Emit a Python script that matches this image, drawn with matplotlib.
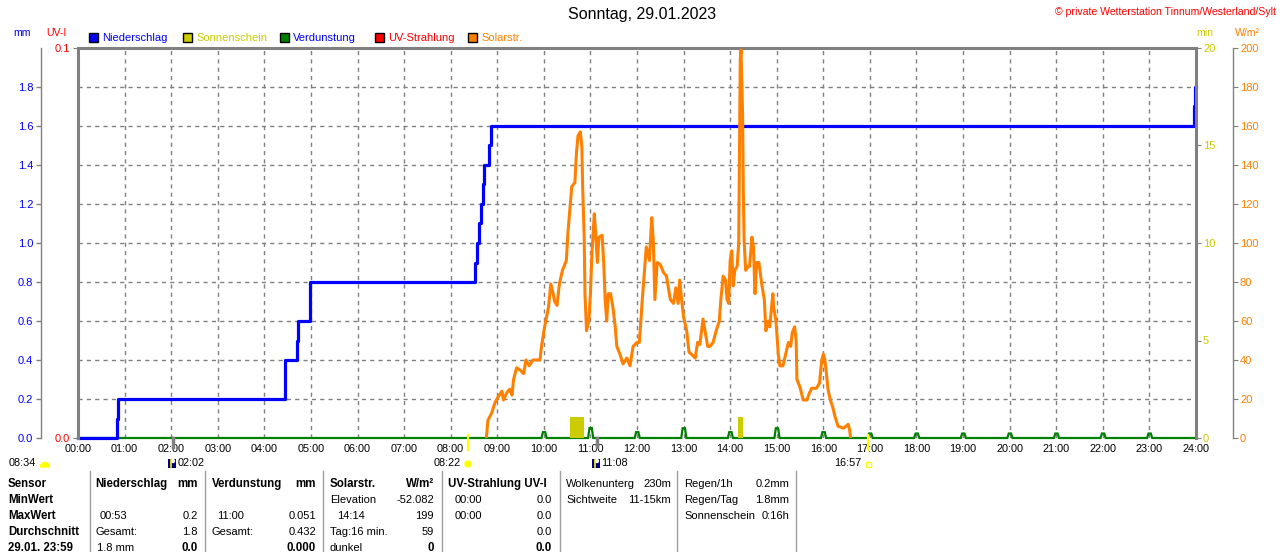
import numpy as np
import matplotlib
matplotlib.use("Agg")
import matplotlib.pyplot as plt
from matplotlib.lines import Line2D
from matplotlib.patches import Rectangle, Wedge, Circle

plt.rcParams['font.family'] = ['Liberation Sans', 'DejaVu Sans']

# ---------------- data ----------------
hour_labels = ["%02d:00" % h for h in range(25)]

# cumulative precipitation (mm), value valid from given time on
rain_times = ["00:00", "00:50", "00:52", "04:27", "04:42", "04:44", "04:59",
              "08:31", "08:34", "08:36", "08:39", "08:42", "08:43", "08:49",
              "08:52", "23:58", "23:59", "24:00"]
rain_vals = [0.0, 0.1, 0.2, 0.4, 0.5, 0.6, 0.8,
             0.9, 1.0, 1.1, 1.2, 1.3, 1.4, 1.5,
             1.6, 1.7, 1.8, 1.8]

# solar radiation (W/m²)
sol_times = ["08:46", "08:48", "08:53", "08:57", "09:01", "09:06", "09:08", "09:12", "09:16", "09:19",
             "09:21", "09:25", "09:29", "09:34", "09:37", "09:41", "09:46", "09:55", "09:57", "10:01",
             "10:06", "10:09", "10:12", "10:14", "10:17", "10:20", "10:24", "10:29", "10:31", "10:34",
             "10:36", "10:40", "10:42", "10:44", "10:47", "10:49", "10:50", "10:52", "10:53", "10:55",
             "10:58", "11:00", "11:02", "11:05", "11:07", "11:09", "11:11", "11:15", "11:17", "11:19",
             "11:21", "11:23", "11:26", "11:29", "11:32", "11:34", "11:38", "11:42", "11:47", "11:51",
             "11:55", "12:00", "12:03", "12:05", "12:07", "12:10", "12:12", "12:16", "12:19", "12:21",
             "12:23", "12:26", "12:30", "12:34", "12:38", "12:40", "12:43", "12:47", "12:50", "12:53",
             "12:55", "12:58", "13:00", "13:04", "13:07", "13:10", "13:15", "13:18", "13:21", "13:25",
             "13:28", "13:31", "13:34", "13:38", "13:42", "13:46", "13:48", "13:51", "13:54", "13:56",
             "13:58", "14:00", "14:02", "14:04", "14:06", "14:09", "14:11", "14:13", "14:14", "14:16",
             "14:17", "14:18", "14:20", "14:23", "14:25", "14:28", "14:30", "14:32", "14:34", "14:37",
             "14:41", "14:44", "14:46", "14:49", "14:51", "14:55", "14:56", "14:59", "15:02", "15:04",
             "15:08", "15:12", "15:15", "15:18", "15:20", "15:23", "15:25", "15:26", "15:30", "15:34",
             "15:39", "15:42", "15:45", "15:51", "15:55", "15:58", "16:00", "16:02", "16:04", "16:06",
             "16:09", "16:12", "16:15", "16:19", "16:26", "16:29", "16:32", "16:34", "16:35"]
sol_vals = [0, 9, 13, 18, 21, 24, 19.5, 23, 25, 22,
            30, 36, 35, 33, 40, 37, 40, 40, 47, 57,
            67, 79, 74, 70, 68, 79, 86, 91, 105, 119,
            129, 131, 146, 155, 157, 149, 129, 103, 74, 55,
            60, 74, 95, 115, 103, 90, 103, 104, 91, 71,
            60, 74, 74, 67, 57, 47, 43, 38, 41, 37,
            47, 49, 49, 60, 72, 88, 98, 91, 113, 101,
            71, 90, 89, 85, 83, 78, 71, 69, 77, 69,
            81, 69, 62, 55, 44, 43, 41, 49, 48, 61,
            54, 47, 47, 49, 55, 60, 71, 83, 81, 71,
            69, 91, 96, 78, 86, 88, 100, 194, 199, 166,
            124, 101, 86, 88, 88, 103, 98, 74, 90, 90,
            78, 71, 55, 60, 57, 74, 67, 60, 43, 37,
            37, 44, 49, 47, 54, 57, 50, 30, 26, 19.5,
            19.5, 23, 25.5, 25.5, 28, 40, 43, 40, 33, 25,
            19.5, 16, 11, 6, 5, 6, 7, 4, 0]

# sunshine (min per interval)
sun_start = ["10:34", "14:10"]
sun_end = ["10:52", "14:16"]
sun_vals = [1.1, 1.1]

# evaporation (mm) per hour
evap_hours = [10, 11, 12, 13, 14, 15, 16, 17, 18, 19, 20, 21, 22, 23]
evap_vals = [0.03, 0.051, 0.03, 0.05, 0.03, 0.05, 0.03, 0.023, 0.023, 0.023, 0.023, 0.023, 0.023, 0.023]

mm_ticks = [0.0, 0.2, 0.4, 0.6, 0.8, 1.0, 1.2, 1.4, 1.6, 1.8]
min_ticks = [0, 5, 10, 15, 20]
wm2_ticks = list(range(0, 201, 20))
uv_ticks = [0.0, 0.1]

sunrise, sunset = "08:22", "16:57"
moon_events = ["02:02", "11:08"]


def th(s):
    h, m = s.split(":")
    return int(h) + int(m) / 60.0


W, H = 1280, 552
fig = plt.figure(figsize=(W / 100, H / 100), dpi=100)
fig.patch.set_facecolor("white")


def fx(x):
    return x / W


def fy(y):
    return 1 - y / H


L, R, T, B = 78, 1196, 48, 438
rect = [fx(L), fy(B), (R - L) / W, (B - T) / H]
GRAY = "#808080"
BLUE = "#0000FF"
YEL = "#CCCC00"
ORANGE = "#FF8000"
GREEN = "#008000"
RED = "#FF0000"

# ---- main (mm) axis
ax = fig.add_axes(rect)
ax.set_xlim(0, 24)
ax.set_ylim(0, 2)
ax.set_xticks(range(25))
ax.set_xticklabels(hour_labels)
ax.tick_params(axis="x", length=0, pad=4, labelsize=7.8, colors="black")
ax.set_yticks(mm_ticks)
ax.set_yticklabels(["%.1f" % v for v in mm_ticks])
ax.tick_params(axis="y", direction="out", length=3.5, width=1, color=GRAY,
               labelcolor=BLUE, labelsize=8, pad=2)
ax.spines["left"].set_position(("outward", 37 * 0.72))
ax.spines["left"].set_color(GRAY)
ax.spines["left"].set_linewidth(1)
ax.spines["top"].set_color(GRAY)
ax.spines["top"].set_linewidth(2.2)
ax.spines["right"].set_visible(False)
ax.spines["bottom"].set_visible(False)
ax.grid(True, color=GRAY, linestyle=(0, (3, 3)), linewidth=1)
ax.set_axisbelow(True)

# evaporation line (green) along baseline
ex, ey = [0.0], [0.0]
for h, v in zip(evap_hours, evap_vals):
    ex += [h - 0.05, h - 0.02, h + 0.03, h + 0.06]
    ey += [0.0, v, v, 0.0]
ex.append(24.0)
ey.append(0.0)
ax.plot(ex, ey, color=GREEN, lw=1.6, solid_joinstyle="miter", clip_on=False, zorder=3)

# precipitation (blue)
ax.plot([th(t) for t in rain_times], rain_vals, drawstyle="steps-post",
        color=BLUE, lw=2.3, clip_on=False, zorder=4)

# ---- UV-I axis (left frame)
ax_uv = fig.add_axes(rect, facecolor="none")
ax_uv.set_xlim(0, 24)
ax_uv.set_ylim(0, 0.1)
ax_uv.set_xticks([])
ax_uv.set_yticks(uv_ticks)
ax_uv.set_yticklabels(["%.1f" % v for v in uv_ticks])
ax_uv.tick_params(axis="y", direction="out", length=3.5, color=GRAY,
                  labelcolor=RED, labelsize=8, pad=2)
for s in ["top", "right", "bottom"]:
    ax_uv.spines[s].set_visible(False)
ax_uv.spines["left"].set_color(GRAY)
ax_uv.spines["left"].set_linewidth(2.2)

# ---- sunshine axis (min) on right frame
ax_sun = fig.add_axes(rect, facecolor="none")
ax_sun.set_xlim(0, 24)
ax_sun.set_ylim(0, 20)
ax_sun.set_xticks([])
ax_sun.yaxis.tick_right()
ax_sun.set_yticks(min_ticks)
ax_sun.set_yticklabels([str(v) for v in min_ticks])
ax_sun.tick_params(axis="y", direction="out", length=3.5, color=GRAY,
                   labelcolor=YEL, labelsize=8, pad=1.5)
for s in ["top", "left", "bottom"]:
    ax_sun.spines[s].set_visible(False)
ax_sun.spines["right"].set_color(GRAY)
ax_sun.spines["right"].set_linewidth(2.2)
for s0, s1, v in zip(sun_start, sun_end, sun_vals):
    ax_sun.bar(th(s0), v, width=th(s1) - th(s0), align="edge", color=YEL, lw=0, zorder=2)
# sunrise / sunset ticks
for t in [sunrise, sunset]:
    ax_sun.plot([th(t), th(t)], [0.15, -0.6], color="#FFFF00", lw=1.6, clip_on=False)
# moon ticks
for t in moon_events:
    ax_sun.plot([th(t), th(t)], [0.0, -0.45], color=GRAY, lw=2.5, clip_on=False)

# ---- solar radiation axis (W/m²)
ax_sol = fig.add_axes(rect, facecolor="none")
ax_sol.set_xlim(0, 24)
ax_sol.set_ylim(0, 200)
ax_sol.set_xticks([])
ax_sol.yaxis.tick_right()
ax_sol.set_yticks(wm2_ticks)
ax_sol.set_yticklabels([str(v) for v in wm2_ticks])
ax_sol.tick_params(axis="y", direction="out", length=3.5, color=GRAY,
                   labelcolor=ORANGE, labelsize=8, pad=1.5)
for s in ["top", "left", "bottom"]:
    ax_sol.spines[s].set_visible(False)
ax_sol.spines["right"].set_position(("outward", 37 * 0.72))
ax_sol.spines["right"].set_color(GRAY)
ax_sol.spines["right"].set_linewidth(1)
ax_sol.plot([th(t) for t in sol_times], sol_vals, color=ORANGE, lw=2.2, zorder=5)

# ---- pixel overlay for decorative icons
ov = fig.add_axes([0, 0, 1, 1], facecolor="none")
ov.set_xlim(0, W)
ov.set_ylim(H, 0)
ov.axis("off")

# ---------------- texts ----------------
fig.text(fx(642), fy(15), "Sonntag, 29.01.2023", ha="center", va="center", fontsize=11.5)
fig.text(fx(1276), fy(12), "\u00a9 private Wetterstation Tinnum/Westerland/Sylt",
         ha="right", va="center", fontsize=7.6, color=RED)

fig.text(fx(22), fy(33), "mm", ha="center", va="center", fontsize=7.6, color=BLUE)
fig.text(fx(56), fy(33), "UV-I", ha="center", va="center", fontsize=7.6, color=RED)
fig.text(fx(1205), fy(33), "min", ha="center", va="center", fontsize=7.6, color=YEL)
fig.text(fx(1247), fy(33), "W/m\u00b2", ha="center", va="center", fontsize=7.6, color=ORANGE)

legend_items = [(89, BLUE, "Niederschlag", BLUE), (183, YEL, "Sonnenschein", YEL),
                (280, GREEN, "Verdunstung", BLUE), (375, RED, "UV-Strahlung", RED),
                (468, ORANGE, "Solarstr.", ORANGE)]
for x0, fc, lab, tc in legend_items:
    ov.add_patch(Rectangle((x0, 33), 9, 9, facecolor=fc, edgecolor="black", lw=1))
    fig.text(fx(x0 + 13), fy(38), lab, ha="left", va="center", fontsize=8, color=tc)

# sun / moon event labels under the axis
ROW = 463
fig.text(fx(9), fy(ROW), "08:34", ha="left", va="center", fontsize=7.8)
ov.add_patch(Wedge((45, 467), 4.5, 180, 360, color="#FFFF00"))
for mx in [168, 592]:
    ov.add_patch(Rectangle((mx, 459), 8, 9, facecolor="#000080", edgecolor="none"))
    ov.plot([mx + 3, mx + 3], [460, 467], color="#FFFF00", lw=1.2)
    ov.add_patch(Circle((mx + 5, 461), 1.5, color="white"))
fig.text(fx(178), fy(ROW), "02:02", ha="left", va="center", fontsize=7.8)
fig.text(fx(434), fy(ROW), "08:22", ha="left", va="center", fontsize=7.8)
ov.add_patch(Circle((468, 464), 3, color="#FFFF00"))
fig.text(fx(601), fy(ROW), "11:08", ha="left", va="center", fontsize=7.8)
fig.text(fx(834), fy(ROW), "16:57", ha="left", va="center", fontsize=7.8)
ov.add_patch(Rectangle((866, 462), 5, 5, facecolor="none", edgecolor="#FFFF00", lw=1))

# ---------------- table ----------------
for xl in [90, 205, 323, 442, 560, 677, 796]:
    ov.plot([xl, xl], [471, 552], color="#A0A0A0", lw=1)

rows_y = [484, 500, 516, 532, 548]
FS = 8


def t(x, y, s, ha="left", bold=False):
    fig.text(fx(x), fy(y), s, ha=ha, va="center", fontsize=FS + (0.3 if bold else 0),
             fontweight="bold" if bold else "normal", color="black")


for i, s in enumerate(["Sensor", "MinWert", "MaxWert", "Durchschnitt", "29.01. 23:59"]):
    t(8, rows_y[i], s, bold=True)

t(95, rows_y[0], "Niederschlag", bold=True)
t(198, rows_y[0], "mm", ha="right", bold=True)
t(100, rows_y[2], "00:53")
t(198, rows_y[2], "0.2", ha="right")
t(95, rows_y[3], "Gesamt:")
t(198, rows_y[3], "1.8", ha="right")
t(97, rows_y[4], "1.8 mm")
t(198, rows_y[4], "0.0", ha="right", bold=True)

t(212, rows_y[0], "Verdunstung", bold=True)
t(316, rows_y[0], "mm", ha="right", bold=True)
t(217, rows_y[2], "11:00")
t(316, rows_y[2], "0.051", ha="right")
t(212, rows_y[3], "Gesamt:")
t(316, rows_y[3], "0.432", ha="right")
t(316, rows_y[4], "0.000", ha="right", bold=True)

t(330, rows_y[0], "Solarstr.", bold=True)
t(434, rows_y[0], "W/m\u00b2", ha="right", bold=True)
t(330, rows_y[1], "Elevation")
t(434, rows_y[1], "-52.082", ha="right")
t(337, rows_y[2], "14:14")
t(434, rows_y[2], "199", ha="right")
t(330, rows_y[3], "Tag:16 min.")
t(434, rows_y[3], "59", ha="right")
t(330, rows_y[4], "dunkel")
t(434, rows_y[4], "0", ha="right", bold=True)

t(448, rows_y[0], "UV-Strahlung UV-I", bold=True)
t(455, rows_y[1], "00:00")
t(552, rows_y[1], "0.0", ha="right")
t(455, rows_y[2], "00:00")
t(552, rows_y[2], "0.0", ha="right")
t(552, rows_y[3], "0.0", ha="right")
t(552, rows_y[4], "0.0", ha="right", bold=True)

t(566, rows_y[0], "Wolkenunterg")
t(671, rows_y[0], "230m", ha="right")
t(566, rows_y[1], "Sichtweite")
t(671, rows_y[1], "11-15km", ha="right")

t(684, rows_y[0], "Regen/1h")
t(789, rows_y[0], "0.2mm", ha="right")
t(684, rows_y[1], "Regen/Tag")
t(789, rows_y[1], "1.8mm", ha="right")
t(684, rows_y[2], "Sonnenschein")
t(789, rows_y[2], "0:16h", ha="right")

fig.savefig("out.png", dpi=100)
